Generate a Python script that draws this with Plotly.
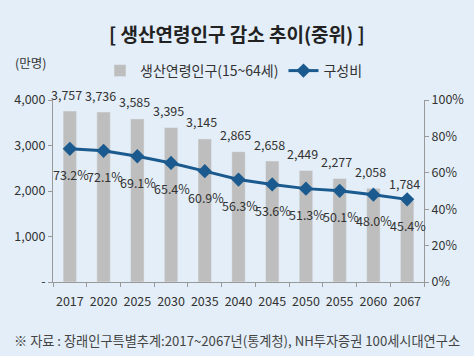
import plotly.graph_objects as go

years = ["2017", "2020", "2025", "2030", "2035", "2040", "2045", "2050", "2055", "2060", "2067"]
population = [3757, 3736, 3585, 3395, 3145, 2865, 2658, 2449, 2277, 2058, 1784]
share = [73.2, 72.1, 69.1, 65.4, 60.9, 56.3, 53.6, 51.3, 50.1, 48.0, 45.4]
left_ticks = [0, 1000, 2000, 3000, 4000]
left_ticktext = ["-", "1,000", "2,000", "3,000", "4,000"]

FONT = "Noto Sans CJK KR"
BG = "#e3eef8"
TXT = "#333333"
LINE = "#1b5a8e"
BAR = "#bebebe"

fig = go.Figure()
fig.add_trace(go.Bar(
    x=years, y=population, name="생산연령인구(15~64세)",
    marker_color=BAR, width=0.4, yaxis="y",
))
fig.add_trace(go.Scatter(
    x=years, y=[s / 100 for s in share], name="구성비", yaxis="y2",
    mode="lines+markers", line=dict(color=LINE, width=3),
    marker=dict(symbol="diamond", size=11, color=LINE),
))

annotations = []
# category axes take annotation x as the category's serial number
for i, p in enumerate(population):
    annotations.append(dict(x=i, y=p, xref="x", yref="y", text=f"{p:,}",
                            showarrow=False, yshift=17, xshift=-3,
                            font=dict(size=12.5, color=TXT, family=FONT)))
for i, s in enumerate(share):
    annotations.append(dict(x=i, y=s / 100, xref="x", yref="y2", text=f"{s:.1f}%",
                            showarrow=False, yshift=-26, xshift=1,
                            font=dict(size=12.5, color=TXT, family=FONT)))

W, H = 474, 356
L, R, T, B = 53, 50, 100, 74
pw, ph = W - L - R, H - T - B


def px(x, y):
    return (x - L) / pw, (H - B - y) / ph


for txt, (x, y), size, col in [
    ("<b>[ 생산연령인구 감소 추이(중위) ]</b>", (237, 33), 19, "#222222"),
    ("(만명)", (30, 62), 12.5, TXT),
    ("※ 자료 : 장래인구특별추계:2017~2067년(통계청), NH투자증권 100세시대연구소", (237, 340), 13.2, "#444444"),
]:
    ax, ay = px(x, y)
    annotations.append(dict(x=ax, y=ay, xref="paper", yref="paper", text=txt, showarrow=False,
                            xanchor="center", yanchor="middle",
                            font=dict(size=size, color=col, family=FONT)))

lx, ly = px(100, 71)
fig.update_layout(
    width=W, height=H,
    margin=dict(l=L, r=R, t=T, b=B, autoexpand=False),
    paper_bgcolor=BG, plot_bgcolor=BG,
    font=dict(family=FONT, size=12, color=TXT),
    showlegend=True,
    legend=dict(orientation="h", x=lx, y=ly,
                xanchor="left", yanchor="middle", bgcolor="rgba(0,0,0,0)",
                font=dict(size=14, color=TXT, family=FONT), traceorder="normal"),
    xaxis=dict(type="category", showline=True, linecolor="#999999", linewidth=1, ticks="outside",
               tickson="boundaries", ticklen=4, tickcolor="#999999", tickangle=0,
               ticklabelstandoff=8,
               tickfont=dict(size=12.5, color=TXT), showgrid=False, range=[-0.5, len(years) - 0.5]),
    yaxis=dict(range=[0, 4000], tickvals=left_ticks, ticktext=left_ticktext,
               showline=True, linecolor="#999999", ticks="outside", ticklen=4,
               tickcolor="#999999", showgrid=False, zeroline=False,
               tickfont=dict(size=12.5, color=TXT)),
    yaxis2=dict(range=[0, 1], overlaying="y", side="right", tickformat=".0%", dtick=0.2,
                showline=True, linecolor="#999999", ticks="outside", ticklen=4,
                tickcolor="#999999", showgrid=False, zeroline=False,
                tickfont=dict(size=12.5, color=TXT)),
    annotations=annotations,
)

fig.write_html("out.html", config={"displayModeBar": False},
               post_script="document.body.style.margin='0';")
